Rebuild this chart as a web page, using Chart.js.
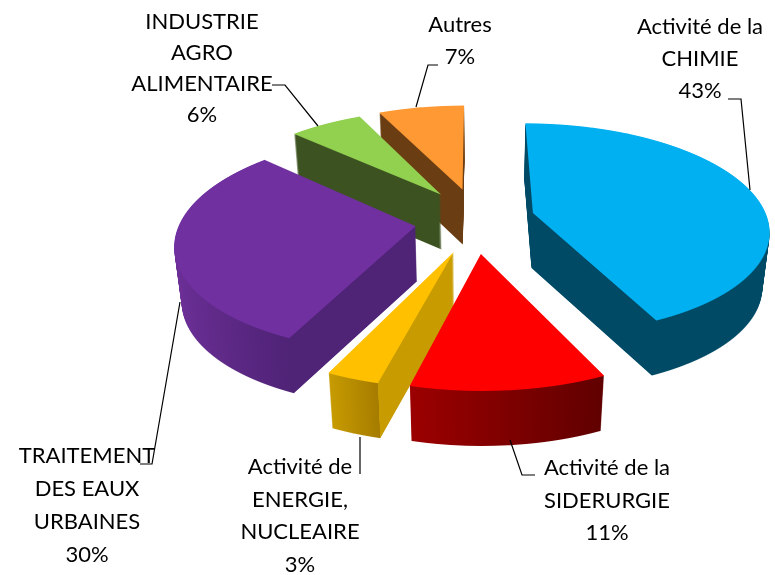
<!DOCTYPE html>
<html><head><meta charset="utf-8">
<style>html,body{margin:0;padding:0;background:#fff}canvas{display:block}</style>
<script src="https://cdn.jsdelivr.net/npm/chart.js@4"></script>
</head><body><canvas id="c" width="775" height="575"></canvas>
<script>
const categories = ["Activité de la|CHIMIE","Activité de la|SIDERURGIE","Activité de|ENERGIE,|NUCLEAIRE","TRAITEMENT|DES EAUX|URBAINES","INDUSTRIE|AGRO|ALIMENTAIRE","Autres"];
const values = [43,11,3,30,6,7];
const topColors = ["#00B0F0","#FF0000","#FFC000","#7030A0","#92D050","#FF9933"];
// side shading: [position across pie width (-1..1), colour]
const sideStops = [
 [[-1,"#004a66"],[1,"#004a66"]],
 [[-0.25,"#9c0000"],[0.43,"#600000"]],
 [[-0.43,"#c89c00"],[-0.25,"#a67c00"],[-0.249,"#c89c00"],[0,"#c89c00"]],
 [[-1,"#6e3099"],[-0.43,"#4f2376"],[0,"#4f2376"]],
 [[-1,"#3c5220"],[1,"#3c5220"]],
 [[-1,"#6b3d12"],[1,"#6b3d12"]]
];
// perspective view of the pie plane
const view = {cx:475, cy:220, rx:235, ry:105, p:0.15, depth:55, taper:0.025, explodeX:0.255, explodeY:0.31};
const labelCentres = [[700,27],[607,468],[300,467],[87,456],[202,22],[460,25]];
const lineGaps = [32,32.5,32.7,33,31,32];
const leaders = [
 [[728,99],[741,99],[750,190]],
 [[535,475],[522,475],[510,440]],
 [[360,474],[360,437]],
 [[140,464],[152,464],[180,302]],
 [[272,85],[285,85],[318,126]],
 [[438,65],[428,65],[416,107]]
];
function rowToV(y){const yy=y-view.cy;return yy/(view.ry+view.p*yy);}
function vToRow(v){return view.cy+view.ry*v/(1-view.p*v);}
function drawLayer(ctx,el,ex,ey,layer){
  const R=el.outerRadius,k=1-view.taper*layer/view.depth;
  const a0=el.startAngle,a1=el.endAngle;
  let lo=Math.min(0,Math.sin(a0),Math.sin(a1)),hi=Math.max(0,Math.sin(a0),Math.sin(a1));
  const has=t=>{for(let n=-2;n<=2;n++){const x=t+n*2*Math.PI;if(x>=a0&&x<=a1)return true;}return false;};
  if(has(-Math.PI/2))lo=-1;
  if(has(Math.PI/2))hi=1;
  const r0=Math.floor(vToRow(lo+ey))-1,r1=Math.ceil(vToRow(hi+ey))+1;
  for(let r=r0;r<r1;r++){
    const v0=rowToV(r),v1=rowToV(r+1),wm=1/(1-view.p*(v0+v1)/2);
    const sx=k*view.rx*wm/R,sy=1/((v1-v0)*R);
    ctx.save();
    ctx.beginPath();ctx.rect(0,r+layer,775,1);ctx.clip();
    ctx.setTransform(sx,0,0,sy,view.cx+k*view.rx*wm*ex-sx*el.x,r+layer-(v0-ey)*R*sy-sy*el.y);
    el.draw(ctx);
    ctx.restore();
  }
}
const pie3d = {
 id:'pie3d',
 beforeDatasetDraw(chart){
  const ctx=chart.ctx, meta=chart.getDatasetMeta(0);
  const order=meta.data.map((el,i)=>i).sort((a,b)=>{
    const m=k=>{const e=meta.data[k];return Math.sin((e.startAngle+e.endAngle)/2);};
    return m(a)-m(b);});
  for(const i of order){
    const el=meta.data[i], R=el.outerRadius, mid=(el.startAngle+el.endAngle)/2;
    const ex=Math.cos(mid)*view.explodeX, ey=Math.sin(mid)*view.explodeY;
    const grad=ctx.createLinearGradient(el.x-R,0,el.x+R,0);
    for(const [s,col] of sideStops[i]) grad.addColorStop((s+1)/2,col);
    const top=el.options;
    el.options=Object.assign({},top,{backgroundColor:grad,borderColor:grad,borderWidth:0});
    for(let d=view.depth;d>=1;d--)drawLayer(ctx,el,ex,ey,d);
    el.options=top;
    drawLayer(ctx,el,ex,ey,0);
  }
  return false;
 },
 afterDatasetsDraw(chart){
  const ctx=chart.ctx;
  ctx.save();
  ctx.strokeStyle="#000";ctx.lineWidth=1.2;
  for(const pts of leaders){ctx.beginPath();pts.forEach((p,k)=>k?ctx.lineTo(p[0],p[1]):ctx.moveTo(p[0],p[1]));ctx.stroke();}
  ctx.fillStyle="#000";ctx.font='22px Lato';ctx.textAlign='center';ctx.textBaseline='middle';
  categories.forEach((c,i)=>{
    const lines=c.split('|').concat(values[i]+'%');
    lines.forEach((t,k)=>ctx.fillText(t,labelCentres[i][0],labelCentres[i][1]+k*lineGaps[i]));
  });
  ctx.restore();
 }
};
new Chart(document.getElementById('c'),{
 type:'pie',
 data:{labels:categories.map(c=>c.replace(/\|/g,' ')),datasets:[{data:values,backgroundColor:topColors,borderWidth:0}]},
 options:{responsive:false,animation:false,layout:{padding:0},plugins:{legend:{display:false},tooltip:{enabled:false}}},
 plugins:[pie3d]
});
</script></body></html>
